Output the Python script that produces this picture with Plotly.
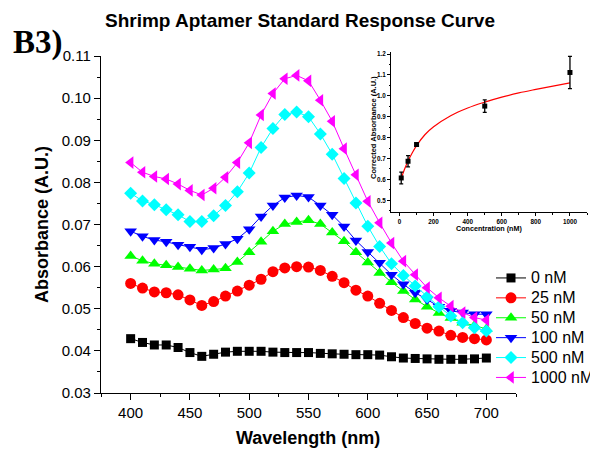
import plotly.graph_objects as go

# ---------------- data ----------------
wavelength = [400, 410, 420, 430, 440, 450, 460, 470, 480, 490, 500, 510, 520, 530, 540, 550,
              560, 570, 580, 590, 600, 610, 620, 630, 640, 650, 660, 670, 680, 690, 700]

abs_0nM = [0.0429, 0.0420, 0.0414, 0.0414, 0.0408, 0.0396, 0.0387, 0.0392, 0.0397, 0.0399, 0.0399,
           0.0399, 0.0397, 0.0396, 0.0396, 0.0396, 0.0394, 0.0393, 0.0392, 0.0391, 0.0391,
           0.0390, 0.0386, 0.0383, 0.0382, 0.0381, 0.0380, 0.0380, 0.0380, 0.0381, 0.0383]
abs_25nM = [0.0560, 0.0549, 0.0540, 0.0538, 0.0533, 0.0521, 0.0508, 0.0517, 0.0530, 0.0542, 0.0556,
            0.0570, 0.0588, 0.0597, 0.0600, 0.0599, 0.0591, 0.0577, 0.0562, 0.0544, 0.0530,
            0.0513, 0.0496, 0.0479, 0.0465, 0.0454, 0.0447, 0.0437, 0.0432, 0.0429, 0.0426]
abs_50nM = [0.0625, 0.0614, 0.0607, 0.0603, 0.0599, 0.0595, 0.0591, 0.0593, 0.0596, 0.0611, 0.0634,
            0.0659, 0.0684, 0.0701, 0.0706, 0.0710, 0.0701, 0.0681, 0.0660, 0.0634, 0.0610,
            0.0585, 0.0563, 0.0542, 0.0522, 0.0505, 0.0490, 0.0478, 0.0467, 0.0460, 0.0452]
abs_100nM = [0.0684, 0.0672, 0.0663, 0.0659, 0.0652, 0.0647, 0.0640, 0.0644, 0.0654, 0.0666, 0.0689,
             0.0719, 0.0745, 0.0764, 0.0769, 0.0765, 0.0745, 0.0723, 0.0695, 0.0662, 0.0635,
             0.0609, 0.0581, 0.0558, 0.0538, 0.0522, 0.0505, 0.0495, 0.0491, 0.0487, 0.0487]
abs_500nM = [0.0774, 0.0756, 0.0747, 0.0735, 0.0723, 0.0707, 0.0707, 0.0721, 0.0745, 0.0778, 0.0822,
             0.0883, 0.0928, 0.0961, 0.0967, 0.0956, 0.0915, 0.0867, 0.0809, 0.0751, 0.0696,
             0.0648, 0.0607, 0.0579, 0.0554, 0.0528, 0.0505, 0.0483, 0.0467, 0.0455, 0.0447]
abs_1000nM = [0.0847, 0.0824, 0.0814, 0.0808, 0.0796, 0.0781, 0.0770, 0.0786, 0.0812, 0.0847, 0.0894,
              0.0960, 0.1011, 0.1046, 0.1054, 0.1041, 0.0995, 0.0945, 0.0880, 0.0818, 0.0755,
              0.0704, 0.0656, 0.0613, 0.0581, 0.0550, 0.0526, 0.0506, 0.0491, 0.0479, 0.0473]

series_names = ["0 nM", "25 nM", "50 nM", "100 nM", "500 nM", "1000 nM"]
series_values = [abs_0nM, abs_25nM, abs_50nM, abs_100nM, abs_500nM, abs_1000nM]
series_colors = ["#000000", "#FF0000", "#00FF00", "#0000FF", "#00FFFF", "#FF00FF"]
series_symbols = ["square", "circle", "triangle-up", "triangle-down", "diamond", "triangle-left"]
series_sizes = [9, 11, 11, 11, 10, 11]

# inset data
inset_conc = [10, 50, 100, 500, 1000]
inset_abs = [0.607, 0.687, 0.767, 0.951, 1.112]
inset_err = [0.028, 0.027, 0.008, 0.030, 0.077]

fit_conc = [10, 20, 30, 50, 75, 100, 150, 200, 300, 400, 500, 600, 700, 800, 900, 1000]
fit_abs = [0.605, 0.628, 0.650, 0.688, 0.728, 0.762, 0.815, 0.852, 0.905, 0.942, 0.970,
           0.994, 1.014, 1.031, 1.047, 1.062]

# the page body has an 8 px margin, so the figure is drawn 8 px in from the window corner
OFF = 8
W, H = 598 - OFF, 449 - OFF
FONT = "Arial, 'Liberation Sans', sans-serif"


def px_x(p):
    return (p - OFF) / W


def px_y(p):
    return 1 - (p - OFF) / H


fig = go.Figure()

for name, vals, col, sym, sz in zip(series_names, series_values, series_colors,
                                    series_symbols, series_sizes):
    fig.add_trace(go.Scatter(
        x=wavelength, y=vals, name='<span style="font-size:16px">%s</span>' % name,
        mode="lines+markers",
        line=dict(color=col, width=1),
        marker=dict(symbol=sym, size=sz, color=col, line=dict(width=0)),
        xaxis="x", yaxis="y",
    ))

# inset fit curve
fig.add_trace(go.Scatter(
    x=fit_conc, y=fit_abs, mode="lines", line=dict(color="#FF0000", width=1.2, shape="spline"),
    xaxis="x2", yaxis="y2", showlegend=False, hoverinfo="skip",
))
# inset points
fig.add_trace(go.Scatter(
    x=inset_conc, y=inset_abs, mode="markers",
    marker=dict(symbol="square", size=5, color="#000000"),
    error_y=dict(type="data", array=inset_err, color="#000000", thickness=1.3, width=2),
    xaxis="x2", yaxis="y2", showlegend=False,
))

axis_common = dict(showgrid=False, zeroline=False, showline=True, linecolor="#000000",
                   ticks="outside", tickcolor="#000000", mirror=False, automargin=False)

fig.update_layout(
    width=W, height=H,
    margin=dict(l=0, r=0, t=0, b=0, pad=0, autoexpand=False),
    paper_bgcolor="white", plot_bgcolor="rgba(0,0,0,0)",
    font=dict(family=FONT, color="#000000"),
    xaxis=dict(**axis_common, domain=[px_x(101), px_x(516)], range=[375, 725],
               tickvals=[400, 450, 500, 550, 600, 650, 700], linewidth=1.3, ticklen=6, tickwidth=1.2,
               tickfont=dict(size=15, family=FONT),
               minor=dict(ticks="outside", ticklen=3, tickcolor="#000000", dtick=25, tick0=375),
               anchor="y"),
    yaxis=dict(**axis_common, domain=[px_y(393), px_y(56)], range=[0.03, 0.11],
               tickvals=[0.03, 0.04, 0.05, 0.06, 0.07, 0.08, 0.09, 0.10, 0.11],
               ticktext=["0.03", "0.04", "0.05", "0.06", "0.07", "0.08", "0.09", "0.10", "0.11"],
               linewidth=1.3, ticklen=6, tickwidth=1.2,
               tickfont=dict(size=15, family=FONT),
               minor=dict(ticks="outside", ticklen=3, tickcolor="#000000", dtick=0.005, tick0=0.03),
               anchor="x"),
    xaxis2=dict(**axis_common, domain=[px_x(391), px_x(587)], range=[-50, 1100],
                tickvals=[0, 200, 400, 600, 800, 1000], linewidth=1, ticklen=3, tickwidth=1,
                tickfont=dict(size=6.3, family=FONT, weight="bold"),
                minor=dict(ticks="outside", ticklen=1.5, tickcolor="#000000", dtick=100, tick0=0),
                anchor="y2"),
    yaxis2=dict(**axis_common, domain=[px_y(212), px_y(52)], range=[0.444, 1.21],
                tickvals=[0.5, 0.6, 0.7, 0.8, 0.9, 1.0, 1.1, 1.2],
                ticktext=["0.5", "0.6", "0.7", "0.8", "0.9", "1.0", "1.1", "1.2"],
                linewidth=1, ticklen=3, tickwidth=1,
                tickfont=dict(size=6.3, family=FONT, weight="bold"),
                minor=dict(ticks="outside", ticklen=1.5, tickcolor="#000000", dtick=0.05, tick0=0.5),
                anchor="x2"),
    legend=dict(x=px_x(491), y=px_y(263), xanchor="left", yanchor="top",
                bgcolor="rgba(0,0,0,0)", borderwidth=0,
                font=dict(size=13, family=FONT), tracegroupgap=0, itemwidth=30),
    showlegend=True,
)

annotations = [
    dict(text="<b>Shrimp Aptamer Standard Response Curve</b>", x=px_x(300), y=px_y(20),
         xanchor="center", yanchor="middle", font=dict(size=19, family=FONT)),
    dict(text="<b>B3)</b>", x=px_x(11), y=px_y(42), xanchor="left", yanchor="middle",
         font=dict(size=33, family="'Liberation Serif', 'Times New Roman', serif")),
    dict(text="<b>Wavelength (nm)</b>", x=px_x(308), y=px_y(438), xanchor="center", yanchor="middle",
         font=dict(size=18, family=FONT)),
    dict(text="<b>Absorbance (A.U.)</b>", x=px_x(42), y=px_y(225), xanchor="center", yanchor="middle",
         textangle=-90, font=dict(size=18, family=FONT)),
    dict(text="<b>Concentration (nM)</b>", x=px_x(489), y=px_y(229), xanchor="center", yanchor="middle",
         font=dict(size=7.2, family=FONT)),
    dict(text="<b>Corrected Absorbance (A.U.)</b>", x=px_x(373), y=px_y(128), xanchor="center",
         yanchor="middle", textangle=-90, font=dict(size=7.5, family=FONT)),
]
for a in annotations:
    a.update(xref="paper", yref="paper", showarrow=False)
fig.update_layout(annotations=annotations)

fig.write_html("out.html")
